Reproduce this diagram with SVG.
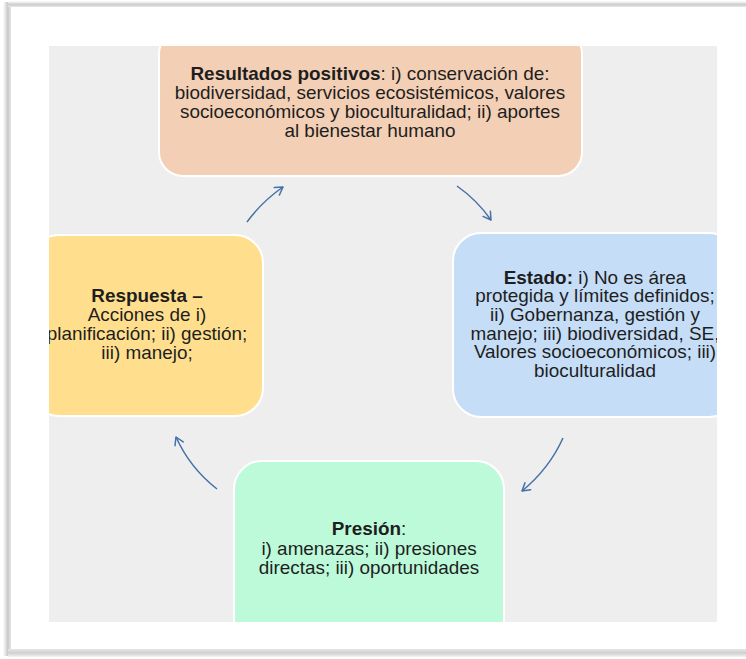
<svg xmlns="http://www.w3.org/2000/svg" width="746" height="659" viewBox="0 0 746 659">
  <defs>
    <style>
      .box { stroke: #ffffff; stroke-width: 2; }
      .t { font-family: "Liberation Sans", Arial, sans-serif; font-size: 17.5px; fill: #1e1e1e; text-anchor: middle; }
      .b { font-weight: bold; }
      .conn { fill: none; stroke: #4571A6; stroke-width: 1.5; marker-end: url(#arr); }
    </style>
    <marker id="arr" viewBox="-9 -6 11 12" markerWidth="11" markerHeight="12" refX="0" refY="0" orient="auto" markerUnits="userSpaceOnUse">
      <path d="M-7.5,-4.5 L0,0 L-7.5,4.5" fill="none" stroke="#4571A6" stroke-width="1.5" stroke-linecap="round" stroke-linejoin="round"/>
    </marker>
    <clipPath id="area">
      <rect x="49" y="46" width="668" height="576"/>
    </clipPath>
    <linearGradient id="shL" x1="0" y1="0" x2="1" y2="0">
      <stop offset="0" stop-color="#ffffff"/>
      <stop offset="0.6" stop-color="#c8c8c8"/>
      <stop offset="1" stop-color="#e6e6e6"/>
    </linearGradient>
    <linearGradient id="shT" x1="0" y1="0" x2="0" y2="1">
      <stop offset="0" stop-color="#ffffff"/>
      <stop offset="0.6" stop-color="#cccccc"/>
      <stop offset="1" stop-color="#e8e8e8"/>
    </linearGradient>
    <linearGradient id="shB" x1="0" y1="0" x2="0" y2="1">
      <stop offset="0" stop-color="#e6e6e6"/>
      <stop offset="0.5" stop-color="#cfcfcf"/>
      <stop offset="1" stop-color="#f4f4f4"/>
    </linearGradient>
  </defs>

  <rect x="0" y="0" width="746" height="659" fill="#ffffff"/>
  <!-- frame shadow -->
  <rect x="3" y="2" width="8" height="654" fill="url(#shL)"/>
  <rect x="8" y="1" width="738" height="6" fill="url(#shT)"/>
  <rect x="8" y="649" width="738" height="8" fill="url(#shB)"/>
  <rect x="11" y="7" width="735" height="642" fill="#ffffff"/>

  <!-- canvas -->
  <rect x="49" y="46" width="668" height="576" fill="#EEEEEE"/>

  <g clip-path="url(#area)">
    <g id="resultados">
      <rect class="box" x="159" y="30" width="423" height="146" rx="24" fill="#F3CFB5"/>
      <text class="t" transform="matrix(1.08 0 0 1 370 80)"><tspan class="b">Resultados positivos</tspan>: i) conservación de:</text>
      <text class="t" transform="matrix(1.08 0 0 1 370 99)">biodiversidad, servicios ecosistémicos, valores</text>
      <text class="t" transform="matrix(1.08 0 0 1 370 118)">socioeconómicos y bioculturalidad; ii) aportes</text>
      <text class="t" transform="matrix(1.08 0 0 1 370 137)">al bienestar humano</text>
    </g>

    <g id="estado">
      <rect class="box" x="453" y="233" width="284" height="184" rx="28" fill="#C5DDF6"/>
      <text class="t" transform="matrix(1.08 0 0 1 595 283.5)"><tspan class="b">Estado:</tspan> i) No es área</text>
      <text class="t" transform="matrix(1.08 0 0 1 595 302)">protegida y límites definidos;</text>
      <text class="t" transform="matrix(1.08 0 0 1 595 321)">ii) Gobernanza, gestión y</text>
      <text class="t" transform="matrix(1.08 0 0 1 595 339.5)">manejo; iii) biodiversidad, SE,</text>
      <text class="t" transform="matrix(1.08 0 0 1 595 358)">Valores socioeconómicos; iii)</text>
      <text class="t" transform="matrix(1.08 0 0 1 595 377)">bioculturalidad</text>
    </g>

    <g id="presion">
      <rect class="box" x="234" y="461" width="270" height="190" rx="28" fill="#BDFADA"/>
      <text class="t" transform="matrix(1.08 0 0 1 369 535)"><tspan class="b">Presión</tspan>:</text>
      <text class="t" transform="matrix(1.08 0 0 1 369 555)">i) amenazas; ii) presiones</text>
      <text class="t" transform="matrix(1.08 0 0 1 369 574)">directas; iii) oportunidades</text>
    </g>

    <g id="respuesta">
      <rect class="box" x="31" y="235" width="232" height="181" rx="28" fill="#FFDF8E"/>
      <text class="t" transform="matrix(1.08 0 0 1 147 301.5)"><tspan class="b">Respuesta –</tspan></text>
      <text class="t" transform="matrix(1.08 0 0 1 147 320.5)">Acciones de i)</text>
      <text class="t" transform="matrix(1.08 0 0 1 147 339.5)">planificación; ii) gestión;</text>
      <text class="t" transform="matrix(1.08 0 0 1 147 358.5)">iii) manejo;</text>
    </g>
  </g>

  <g id="connectors">
    <path class="conn" d="M247,222 Q262,201.5 283,187"/>
    <path class="conn" d="M457,186 Q477,200 491,220"/>
    <path class="conn" d="M563,438 Q549,469 522,491"/>
    <path class="conn" d="M217,489 Q190,468 176,437"/>
  </g>
</svg>
